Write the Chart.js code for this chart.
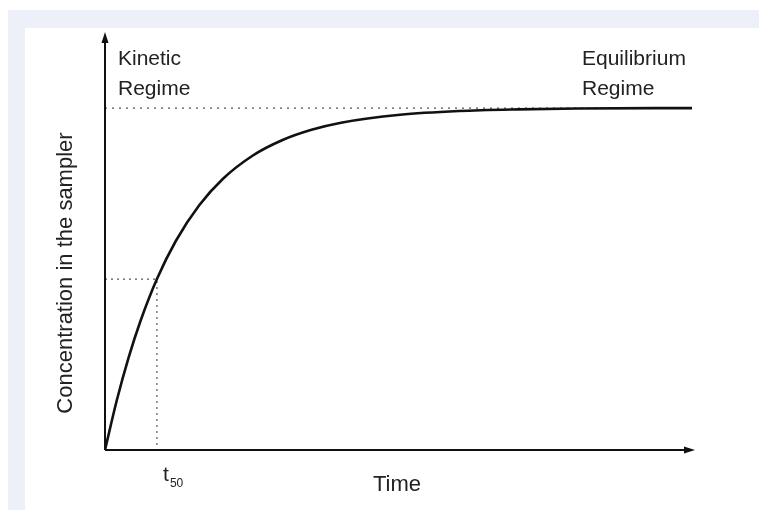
<!DOCTYPE html>
<html>
<head>
<meta charset="utf-8">
<script src="https://cdn.jsdelivr.net/npm/chart.js@4"></script>
<style>
  html, body { margin: 0; padding: 0; background: #ffffff; }
  #wrap { position: absolute; left: 0; top: 0; width: 759px; height: 510px; }
</style>
</head>
<body>
<div id="wrap"><canvas id="c" width="759" height="510"></canvas></div>
<script>
// Curve (time in arbitrary units 0..100, concentration 0..100)
const timeValues = [0, 2, 4, 6, 8.8, 12, 16, 20, 25, 30, 35, 40, 50, 60, 70, 80, 99.5];
const concValues = [0, 11.9, 22.1, 30.8, 40.9, 50.0, 58.6, 64.9, 70.4, 74.1, 76.6, 78.3, 80.2, 81.1, 81.5, 81.7, 81.8];
const equilibriumLevel = 81.8;
const t50 = 8.8;
const halfLevel = 40.9;
const xRange = [0, 100];
const yRange = [0, 100];
const labelsText = {
  kinetic: ["Kinetic", "Regime"],
  equilibrium: ["Equilibrium", "Regime"],
  xTitle: "Time",
  yTitle: "Concentration in the sampler",
  t: "t",
  tSub: "50"
};

const curve = timeValues.map((t, i) => ({ x: t, y: concValues[i] }));

const framePlugin = {
  id: 'frame',
  beforeDraw(chart) {
    const ctx = chart.ctx;
    ctx.save();
    ctx.fillStyle = '#ffffff';
    ctx.fillRect(0, 0, chart.width, chart.height);
    ctx.fillStyle = '#edf0f9';
    ctx.fillRect(8, 10, chart.width - 8, chart.height - 10);
    ctx.fillStyle = '#ffffff';
    ctx.fillRect(25, 28, chart.width - 25, chart.height - 28);
    ctx.restore();
  },
  afterDatasetsDraw(chart) {
    const ctx = chart.ctx;
    const a = chart.chartArea;
    ctx.save();
    ctx.strokeStyle = '#111111';
    ctx.fillStyle = '#111111';
    ctx.lineWidth = 2;
    // y axis
    ctx.beginPath();
    ctx.moveTo(a.left, a.bottom);
    ctx.lineTo(a.left, a.top + 8);
    ctx.stroke();
    ctx.beginPath();
    ctx.moveTo(a.left, a.top);
    ctx.lineTo(a.left - 3.5, a.top + 11);
    ctx.lineTo(a.left + 3.5, a.top + 11);
    ctx.closePath();
    ctx.fill();
    // x axis
    ctx.beginPath();
    ctx.moveTo(a.left, a.bottom);
    ctx.lineTo(a.right - 8, a.bottom);
    ctx.stroke();
    ctx.beginPath();
    ctx.moveTo(a.right, a.bottom);
    ctx.lineTo(a.right - 11, a.bottom - 3.5);
    ctx.lineTo(a.right - 11, a.bottom + 3.5);
    ctx.closePath();
    ctx.fill();

    // texts
    ctx.fillStyle = '#222222';
    ctx.textBaseline = 'alphabetic';
    ctx.textAlign = 'left';
    ctx.font = '21px "Liberation Sans", Arial, sans-serif';
    ctx.fillText(labelsText.kinetic[0], a.left + 13, 65);
    ctx.fillText(labelsText.kinetic[1], a.left + 13, 95);
    ctx.fillText(labelsText.equilibrium[0], 582, 65);
    ctx.fillText(labelsText.equilibrium[1], 582, 95);

    const xs = chart.scales.x;
    const tx = xs.getPixelForValue(t50);
    ctx.font = '21px "Liberation Sans", Arial, sans-serif';
    ctx.fillText(labelsText.t, tx + 6, 481);
    ctx.font = '12px "Liberation Sans", Arial, sans-serif';
    ctx.fillText(labelsText.tSub, tx + 13, 487);

    ctx.font = '22px "Liberation Sans", Arial, sans-serif';
    ctx.fillText(labelsText.xTitle, 373, 491);

    ctx.translate(66, 273);
    ctx.rotate(-Math.PI / 2);
    ctx.textAlign = 'center';
    ctx.textBaseline = 'middle';
    ctx.font = '22px "Liberation Sans", Arial, sans-serif';
    ctx.fillText(labelsText.yTitle, 0, 0);
    ctx.restore();
  }
};

new Chart(document.getElementById('c'), {
  type: 'scatter',
  data: {
    datasets: [
      {
        data: [{ x: 0, y: equilibriumLevel }, { x: timeValues[timeValues.length - 1], y: equilibriumLevel }],
        showLine: true, borderColor: '#555555', borderWidth: 1.2, borderDash: [2, 5],
        pointRadius: 0, order: 3
      },
      {
        data: [{ x: 0, y: halfLevel }, { x: t50, y: halfLevel }, { x: t50, y: 0 }],
        showLine: true, borderColor: '#555555', borderWidth: 1.2, borderDash: [2, 4],
        pointRadius: 0, order: 2
      },
      {
        data: curve,
        showLine: true, borderColor: '#111111', borderWidth: 2.6,
        cubicInterpolationMode: 'monotone',
        pointRadius: 0, order: 1
      }
    ]
  },
  options: {
    responsive: false,
    animation: false,
    events: [],
    layout: { padding: { left: 105, right: 64, top: 32, bottom: 60 } },
    plugins: { legend: { display: false }, tooltip: { enabled: false } },
    scales: {
      x: { type: 'linear', min: xRange[0], max: xRange[1], display: false },
      y: { type: 'linear', min: yRange[0], max: yRange[1], display: false }
    }
  },
  plugins: [framePlugin]
});
</script>
</body>
</html>
